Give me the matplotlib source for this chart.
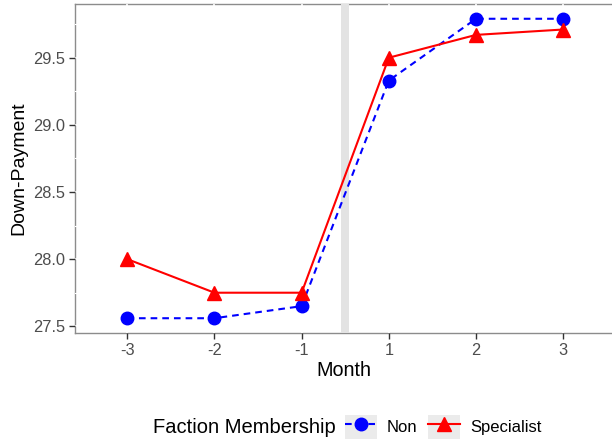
import numpy as np
import matplotlib
matplotlib.use("Agg")
import matplotlib.pyplot as plt
from matplotlib.legend_handler import HandlerLine2D
from matplotlib.patches import Rectangle
from matplotlib.ticker import MultipleLocator, FormatStrFormatter

plt.rcParams["font.family"] = ["Liberation Sans", "DejaVu Sans"]

MONTHS = ["-3", "-2", "-1", "1", "2", "3"]
NON = [27.56, 27.56, 27.65, 29.33, 29.79, 29.79]
SPECIALIST = [28.00, 27.75, 27.75, 29.50, 29.67, 29.71]
BAND = (2.455, 2.545)  # shaded gap between month -1 and 1


class KeyBox(HandlerLine2D):
    """Line key drawn on a grey square, like ggplot legend keys"""

    def create_artists(self, legend, orig_handle, xdescent, ydescent,
                       width, height, fontsize, trans):
        arts = super().create_artists(legend, orig_handle, xdescent, ydescent,
                                      width, height, fontsize, trans)
        bg = Rectangle((-xdescent, -ydescent), width, height,
                       facecolor="#EBEBEB", edgecolor="none", transform=trans)
        return [bg] + list(arts)


fig = plt.figure(figsize=(6.12, 4.44), dpi=100)
ax = fig.add_axes([0.1225, 0.25, 0.8775, 0.741])

x = np.arange(len(MONTHS))
ax.axvspan(*BAND, color="#E3E3E3", lw=0, zorder=1)
l_non, = ax.plot(x, NON, color="blue", ls=(0, (3.2, 2.4)), lw=1.5,
                 marker="o", ms=9, zorder=3, label="Non")
l_spec, = ax.plot(x, SPECIALIST, color="red", lw=1.5,
                  marker="^", ms=10, zorder=4, label="Specialist")

ax.set_xlim(-0.6, 5.56)
ax.set_ylim(27.45, 29.9)
ax.set_xticks(x)
ax.set_xticklabels(MONTHS)
ax.yaxis.set_major_locator(MultipleLocator(0.5))
ax.yaxis.set_minor_locator(MultipleLocator(0.25))
ax.yaxis.set_major_formatter(FormatStrFormatter("%.1f"))

ax.set_axisbelow(True)
ax.grid(True, which="major", color="white", lw=1.2)
ax.grid(True, which="minor", axis="y", color="white", lw=0.8)
for side in ("left", "bottom", "top"):
    ax.spines[side].set_color("#8C8C8C")
    ax.spines[side].set_linewidth(1.0)
    ax.spines[side].set_zorder(0.2)
ax.spines["right"].set_visible(False)

ax.tick_params(axis="both", which="major", colors="#333333", labelcolor="#4D4D4D",
               labelsize=11.8, length=4, width=1.0, pad=3)
ax.tick_params(axis="y", which="minor", length=0)
ax.set_xlabel("Month", fontsize=14.2, labelpad=2)
ax.set_ylabel("Down-Payment", fontsize=14, labelpad=4)

fig.text(0.25, 0.038, "Faction Membership", fontsize=14.5, ha="left", va="center")
fig.legend(handles=[l_non, l_spec], loc="center left", bbox_to_anchor=(0.5637, 0.038),
           ncol=2, frameon=False, fontsize=12, handlelength=1.92, handleheight=1.85,
           handletextpad=0.6, columnspacing=0.65, borderpad=0, borderaxespad=0,
           handler_map={matplotlib.lines.Line2D: KeyBox(numpoints=1)})

fig.savefig("out.png", dpi=100)
